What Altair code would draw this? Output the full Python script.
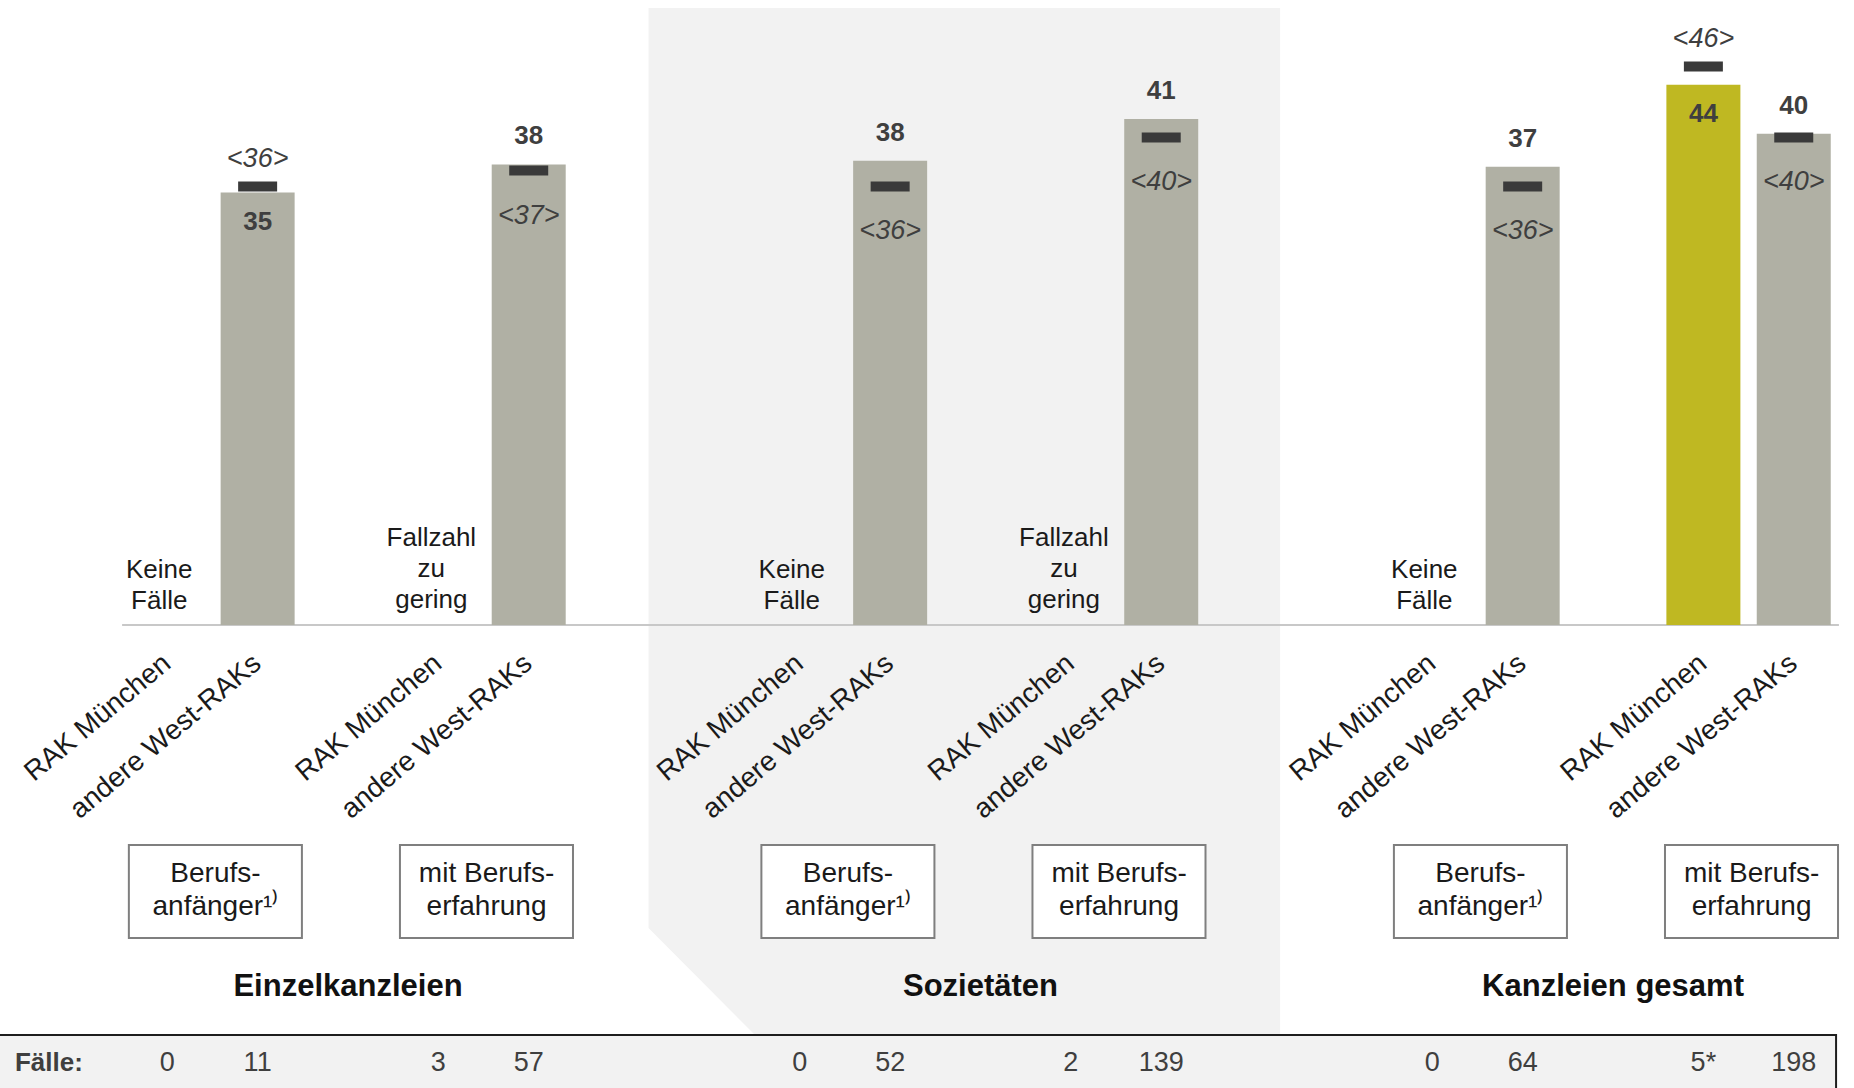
import altair as alt
import pandas as pd

# ---------------- data ----------------
slots = [0, 1, 3, 4, 7, 8, 10, 11, 14, 15, 17, 18]
regions = ["RAK München", "andere West-RAKs"] * 6
means = [None, 35.3, None, 37.6, None, 37.9, None, 41.3, None, 37.4, 44.1, 40.1]
benchmarks = [None, 35.8, None, 37.1, None, 35.8, None, 39.8, None, 35.8, 45.6, 39.8]
mean_labels = ["", "35", "", "38", "", "38", "", "41", "", "37", "44", "40"]
bench_labels = ["", "<36>", "", "<37>", "", "<36>", "", "<40>", "", "<36>", "<46>", "<40>"]
cases = ["0", "11", "3", "57", "0", "52", "2", "139", "0", "64", "5*", "198"]
notes = ["Keine\nFälle", "", "Fallzahl\nzu\ngering", "", "Keine\nFälle", "",
         "Fallzahl\nzu\ngering", "", "Keine\nFälle", "", "", ""]
groups = ["Einzelkanzleien", "Sozietäten", "Kanzleien gesamt"]
group_centers = [2, 9, 16]
subgroups = ["Berufs-\nanfänger¹⁾", "mit Berufs-\nerfahrung"] * 3
subgroup_centers = [0.5, 3.5, 7.5, 10.5, 14.5, 17.5]

# ---------------- layout helpers (pixel -> data units) ----------------
W, H = 1854, 1088
PX0, PXU = 163.15, 90.85     # slot 0 position, pixels per slot
PY0, PYU = 625.0, 12.25      # baseline, pixels per value unit


def xd(px):
    return (px - PX0) / PXU


def yd(py):
    return (PY0 - py) / PYU


XS = alt.Scale(domain=[xd(0), xd(W)], nice=False, zero=False)
YS = alt.Scale(domain=[yd(H), yd(0)], nice=False, zero=False)


def X(f):
    return alt.X(f, type="quantitative", scale=XS, axis=None)


def X2(f):
    return alt.X2(f)


def Y(f):
    return alt.Y(f, type="quantitative", scale=YS, axis=None)


def YC(py):
    return alt.Y(datum=yd(py), scale=YS, axis=None)


FONT = "Liberation Sans, Arial, sans-serif"
TXT = "#3f3f3f"

df = pd.DataFrame({
    "slot": slots, "region": regions, "mean": means, "bench": benchmarks,
    "mlab": mean_labels, "blab": bench_labels, "cases": cases, "note": notes,
})
df["lines"] = df["note"].str.count("\n") + 1
bars = df.dropna(subset=["mean"]).copy()
bars["above"] = bars["mean"] >= bars["bench"]

# background panel for Sozietäten
panel = pd.DataFrame({
    "x": [xd(647), xd(753), xd(1282)],
    "top": [yd(8)] * 3,
    "bot": [yd(928), yd(1034), yd(1034)],
})
panel_layer = alt.Chart(panel).mark_area(color="#f2f2f2", interpolate="linear").encode(
    x=X("x"), y=Y("top"), y2=alt.Y2("bot"))

# Fälle strip
strip = pd.DataFrame({"x": [xd(-10)], "x2": [xd(1841)], "y": [yd(1035)], "y2": [yd(1100)]})
strip_layer = alt.Chart(strip).mark_rect(fill="#f2f2f2", stroke="#1e1e1e", strokeWidth=2).encode(
    x=X("x"), x2=X2("x2"), y=Y("y"), y2=alt.Y2("y2"))

# baseline
base = pd.DataFrame({"x": [-0.5], "x2": [18.5], "y": [0.0]})
base_layer = alt.Chart(base).mark_rule(color="#c8c8c8", strokeWidth=2).encode(
    x=X("x"), x2=X2("x2"), y=Y("y"))

bar_layer = alt.Chart(bars).mark_bar(size=74, orient="vertical").encode(
    x=X("slot"), y=Y("mean"), y2=alt.Y2(datum=0),
    color=alt.Color("region:N", scale=alt.Scale(domain=["RAK München", "andere West-RAKs"],
                                                  range=["#bfb822", "#b0b0a4"]), legend=None))

tick_layer = alt.Chart(bars).mark_tick(orient="horizontal", size=39, thickness=10,
                                       color="#3a3a3a", opacity=1).encode(
    x=X("slot"), y=Y("bench"))

mean_above = alt.Chart(bars).transform_filter("datum.above").mark_text(
    dy=-28, baseline="middle", fontSize=26, fontWeight="bold", font=FONT, color=TXT).encode(
    x=X("slot"), y=Y("mean"), text="mlab:N")
mean_inside = alt.Chart(bars).transform_filter("!datum.above").mark_text(
    dy=29, baseline="middle", fontSize=26, fontWeight="bold", font=FONT, color=TXT).encode(
    x=X("slot"), y=Y("mean"), text="mlab:N")
bench_below = alt.Chart(bars).transform_filter("datum.above").mark_text(
    dy=45, baseline="middle", fontSize=27, fontStyle="italic", font=FONT, color=TXT).encode(
    x=X("slot"), y=Y("bench"), text="blab:N")
bench_above = alt.Chart(bars).transform_filter("!datum.above").mark_text(
    dy=-27, baseline="middle", fontSize=27, fontStyle="italic", font=FONT, color=TXT).encode(
    x=X("slot"), y=Y("bench"), text="blab:N")

notes_df = df[df["note"] != ""]
note2 = alt.Chart(notes_df).transform_filter("datum.lines == 2").mark_text(
    lineBreak="\n", baseline="middle", lineHeight=31, dx=-8, fontSize=26, font=FONT,
    color="#1a1a1a").encode(x=X("slot"), y=YC(570), text="note:N")
note3 = alt.Chart(notes_df).transform_filter("datum.lines == 3").mark_text(
    lineBreak="\n", baseline="middle", lineHeight=31, dx=-7, fontSize=26, font=FONT,
    color="#1a1a1a").encode(x=X("slot"), y=YC(538), text="note:N")

region_layer = alt.Chart(df).mark_text(
    angle=320, align="right", baseline="middle", fontSize=28, font=FONT, color="#1a1a1a").encode(
    x=X("slot"), y=YC(660), text="region:N")

sub_df = pd.DataFrame({"c": subgroup_centers, "label": subgroups})
sub_df["x"] = sub_df["c"] - 0.925
sub_df["x2"] = sub_df["c"] + 0.99
box_layer = alt.Chart(sub_df).mark_rect(fill="white", stroke="#7f7f7f", strokeWidth=2).encode(
    x=X("x"), x2=X2("x2"), y=YC(845), y2=alt.Y2(datum=yd(938)))
box_text = alt.Chart(sub_df).mark_text(
    lineBreak="\n", baseline="middle", lineHeight=33, fontSize=28, font=FONT,
    color="#1a1a1a", dx=3).encode(
    x=X("c"), y=YC(874), text="label:N")

grp_df = pd.DataFrame({"c": group_centers, "label": groups})
grp_layer = alt.Chart(grp_df).mark_text(
    baseline="middle", fontSize=31, fontWeight="bold", font=FONT, color="#111111").encode(
    x=X("c"), y=YC(987), text="label:N")

faelle_head = alt.Chart(pd.DataFrame({"x": [xd(10)], "t": ["Fälle:"]})).mark_text(
    align="left", baseline="middle", fontSize=26, fontWeight="bold", font=FONT, color=TXT).encode(
    x=X("x"), y=YC(1063), text="t:N")
faelle_vals = alt.Chart(df).mark_text(
    baseline="middle", fontSize=27, font=FONT, color=TXT).encode(
    x=X("slot"), y=YC(1063), text="cases:N")

chart = alt.layer(
    panel_layer, strip_layer, base_layer, bar_layer, tick_layer,
    mean_above, mean_inside, bench_below, bench_above,
    note2, note3, region_layer, box_layer, box_text, grp_layer,
    faelle_head, faelle_vals,
).properties(
    width=W, height=H, padding=0, autosize=alt.AutoSizeParams(type="none"),
    background="white",
).configure_view(strokeWidth=0)

chart.save("out.html", embed_options={"renderer": "svg", "actions": False})
